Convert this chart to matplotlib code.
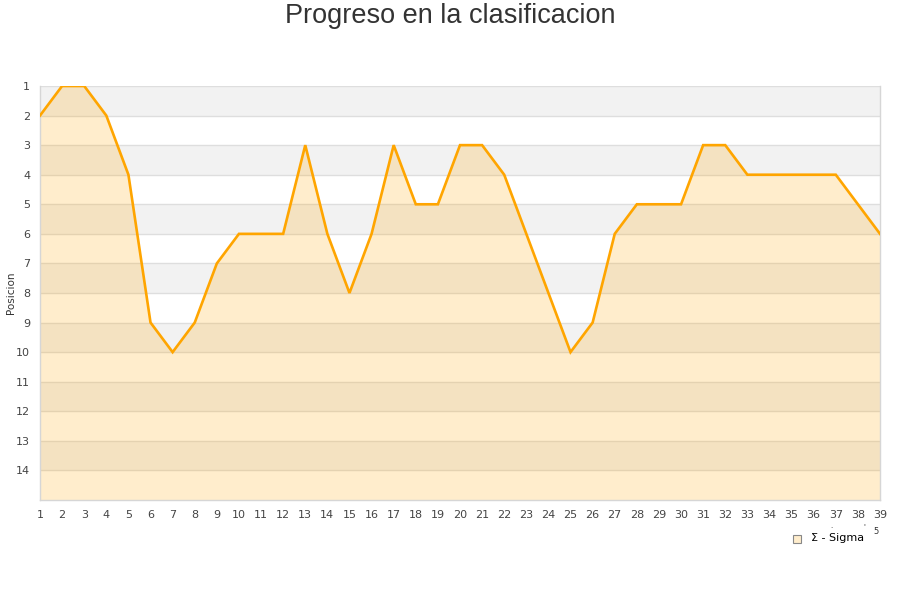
import matplotlib
matplotlib.use("Agg")
import matplotlib.pyplot as plt
from matplotlib.lines import Line2D

jornadas = list(range(1, 40))
posicion = [2, 1, 1, 2, 4, 9, 10, 9, 7, 6, 6, 6, 3, 6, 8, 6, 3, 5, 5, 3,
            3, 4, 6, 8, 10, 9, 6, 5, 5, 5, 3, 3, 4, 4, 4, 4, 4, 5, 6]
y_ticks = list(range(1, 15))
title = "Progreso en la clasificacion"
ylabel = "Posicion"
series_name = "\u03a3 - Sigma"

fig = plt.figure(figsize=(9, 6), dpi=100)
ax = fig.add_axes([40/900, 100/600, 840/900, 414/600])

ax.set_xlim(1, 39)
ax.set_ylim(15, 1)

# alternating bands
for y0 in range(1, 15, 2):
    ax.axhspan(y0, y0 + 1, color="#f2f2f2", zorder=0, lw=0)

for y in range(1, 15):
    ax.axhline(y, color="#dedede", lw=1, zorder=1)

ax.fill_between(jornadas, posicion, 15, color="#ffa500", alpha=0.2, lw=0, zorder=2)
ax.plot(jornadas, posicion, color="#ffa500", lw=1.9, zorder=3, solid_joinstyle="miter")

ax.set_xticks(jornadas)
ax.set_yticks(y_ticks)
ax.tick_params(length=0, labelsize=8, colors="#444444", pad=7)
ax.tick_params(axis="x", pad=7)
for s in ax.spines.values():
    s.set_color("#d6d6d6")
    s.set_linewidth(1)
ax.spines["top"].set_visible(False)

fig.text(11/900, 1 - 293/600, ylabel, rotation=90, ha="center", va="center",
         fontsize=7.5, color="#333333")

fig.text(0.5, 1 - 16/600, title, ha="center", va="center",
         fontsize=19.5, color="#333333", family="Liberation Sans")

# legend
fig.add_artist(Line2D([797/900], [1 - 539/600], marker="s", markersize=6,
                      markerfacecolor="#ffedcc", markeredgecolor="#888888",
                      markeredgewidth=0.8, linestyle="none"))
fig.text(811/900, 1 - 538/600, series_name, ha="left", va="center",
         fontsize=8, color="#000000")
fig.text(831/900, 1 - 526/600, ".", ha="center", va="center", fontsize=5, color="#333333")
fig.text(864/900, 1 - 526/600, "'", ha="center", va="center", fontsize=5, color="#333333")
fig.text(876/900, 1 - 532/600, "5", ha="center", va="center", fontsize=6, color="#333333")

fig.savefig("out.png", dpi=100)
